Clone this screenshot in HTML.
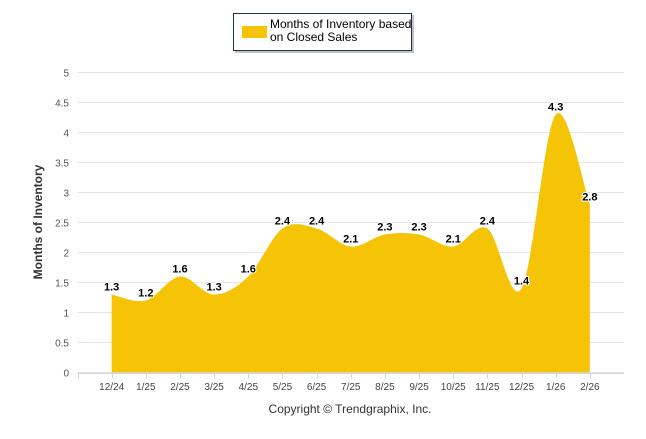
<!DOCTYPE html>
<html><head><meta charset="utf-8"><style>
body{margin:0;background:#fff;width:646px;height:434px;overflow:hidden}
svg{font-family:"Liberation Sans",sans-serif}
</style></head><body>
<svg id="chart" width="646" height="434" xmlns="http://www.w3.org/2000/svg">
<g id="grid"></g>
<g id="area"></g>
<g id="labels"></g>
<g id="yticks"></g>
<g id="xticks"></g>
<text transform="translate(42,222) rotate(-90)" text-anchor="middle" font-size="12" font-weight="bold" fill="#333">Months of Inventory</text>
<text x="350" y="413" text-anchor="middle" font-size="12" fill="#333">Copyright © Trendgraphix, Inc.</text>
<g>
<rect x="235" y="15" width="179" height="38" fill="#888" opacity="0.5"/>
<rect x="233.5" y="13.5" width="178" height="37" fill="#fff" stroke="#1f2f4f" stroke-width="1"/>
<rect x="242" y="26" width="25" height="12" fill="#f6c406"/>
<text x="270" y="28" font-size="12" fill="#000">Months of Inventory based</text>
<text x="270" y="41" font-size="12" fill="#000">on Closed Sales</text>
</g>
</svg>
<script>
const categories=["12/24","1/25","2/25","3/25","4/25","5/25","6/25","7/25","8/25","9/25","10/25","11/25","12/25","1/26","2/26"];
const values=[1.3,1.2,1.6,1.3,1.6,2.4,2.4,2.1,2.3,2.3,2.1,2.4,1.4,4.3,2.8];
const yTicks=[0,0.5,1,1.5,2,2.5,3,3.5,4,4.5,5];
const X0=77.5,X1=624,Y0=372.5,Y1=72.5;
const xs=i=>X0+(i+1)*(X1-X0)/(categories.length+1);
const ys=v=>Y0+(Y1-Y0)*v/5;
const NS="http://www.w3.org/2000/svg";
function mk(tag,attrs,parent){const e=document.createElementNS(NS,tag);for(const k in attrs)e.setAttribute(k,attrs[k]);parent.appendChild(e);return e;}
const grid=document.getElementById('grid'),yt=document.getElementById('yticks'),xt=document.getElementById('xticks');
yTicks.forEach(v=>{
 const l=mk('line',{x1:X0,x2:X1,y1:ys(v),y2:ys(v),stroke:'#e6e6e6','stroke-width':1},grid);
 
 
 const t=mk('text',{x:69,y:ys(v)+4,'text-anchor':'end','font-size':10,fill:'#555'},yt);
 t.textContent=v;
 
 
});
mk('line',{x1:X0,x2:X1,y1:Y0+1,y2:Y0+1,stroke:'#ccd6eb'},xt);
for(let i=-1;i<categories.length;i++){
 mk('line',{x1:Math.round(xs(i))+.5,x2:Math.round(xs(i))+.5,y1:Y0+1,y2:Y0+6,stroke:'#ccd6eb'},xt);
}
categories.forEach((c,i)=>{
 const t=mk('text',{x:xs(i),y:390,'text-anchor':'middle','font-size':10,fill:'#444'},xt);
 t.textContent=c;
 
 
});
const pts=values.map((v,i)=>({x:xs(i),y:ys(v)}));
let d=`M${pts[0].x},${Y0} L${pts[0].x},${pts[0].y}`;
for(let i=1;i<pts.length;i++){
 const p0=pts[i-2]||pts[i-1],p1=pts[i-1],p2=pts[i],p3=pts[i+1]||pts[i];
 const c1x=p1.x+(p2.x-p0.x)/6,c1y=p1.y+(p2.y-p0.y)/6;
 const c2x=p2.x-(p3.x-p1.x)/6,c2y=p2.y-(p3.y-p1.y)/6;
 d+=` C${c1x},${c1y} ${c2x},${c2y} ${p2.x},${p2.y}`;
}
d+=` L${pts[pts.length-1].x},${Y0} Z`;
const ar=mk('path',{d:d,fill:'#f6c406'},document.getElementById('area'));


const lg=document.getElementById('labels');
values.forEach((v,i)=>{
 const t=mk('text',{x:xs(i),y:ys(v)-4,'text-anchor':'middle','font-size':11,'font-weight':'bold',fill:'#000',stroke:'#fff','stroke-width':2,'paint-order':'stroke'},lg);
 t.textContent=v.toFixed(1);
 
 
});
</script>
</body></html>
